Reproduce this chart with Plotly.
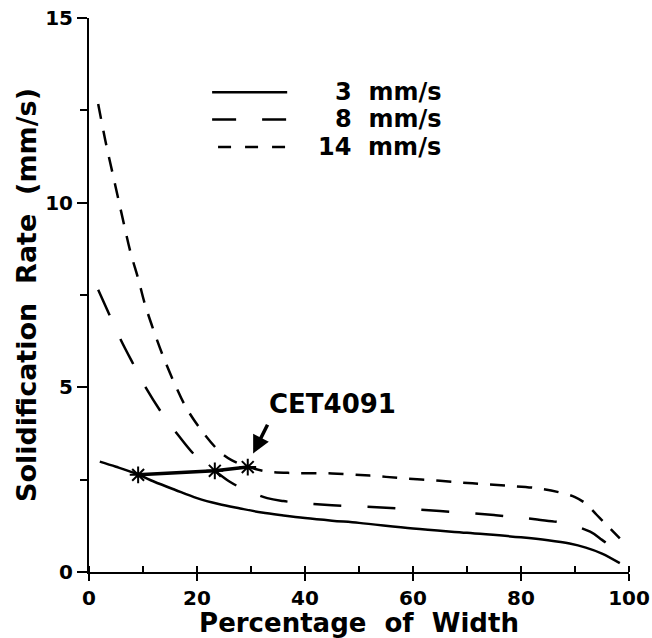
import plotly.graph_objects as go

# ---- data ----
x3 = [2, 5, 9.1, 12, 16, 20, 24, 28, 32, 36, 40, 45, 50, 60, 70, 80, 85, 89, 92, 95, 98.3]
y3 = [2.99, 2.85, 2.64, 2.45, 2.22, 2.0, 1.84, 1.72, 1.61, 1.53, 1.46, 1.39, 1.33, 1.18, 1.06, 0.94, 0.86, 0.77, 0.66, 0.5, 0.24]

x8 = [1.7, 3.8, 5.9, 8.3, 10.6, 13.5, 16.5, 19.9, 23.3, 26, 28.3, 33, 36, 40, 45, 55, 65, 75, 83, 88, 92.8, 95, 97.1]
y8 = [7.64, 6.96, 6.28, 5.6, 4.97, 4.3, 3.71, 3.12, 2.74, 2.45, 2.27, 2.0, 1.92, 1.86, 1.81, 1.74, 1.65, 1.54, 1.42, 1.32, 1.09, 0.87, 0.64]

x14 = [1.7, 3.2, 4.3, 5.4, 6.5, 7.7, 9.1, 10.3, 11.9, 13.7, 15.7, 18, 21, 24.2, 26.4, 29.4, 33, 38, 45, 52, 58, 65, 71, 77, 83, 87, 90, 92, 94, 96, 98.3]
y14 = [12.67, 11.56, 10.84, 10.12, 9.40, 8.65, 7.95, 7.28, 6.57, 5.85, 5.15, 4.45, 3.8, 3.26, 3.03, 2.85, 2.72, 2.68, 2.67, 2.61, 2.54, 2.47, 2.40, 2.34, 2.27, 2.16, 2.03, 1.85, 1.55, 1.25, 0.91]

cet_x = [9.1, 23.3, 29.4]
cet_y = [2.63, 2.74, 2.84]

series_names = ["3  mm/s", "8  mm/s", "14  mm/s"]
x_ticks = [0, 20, 40, 60, 80, 100]
y_ticks = [0, 5, 10, 15]

FONT = "DejaVu Sans"
BLACK = "black"

fig = go.Figure()
fig.add_trace(go.Scatter(x=x3, y=y3, mode="lines", line=dict(color=BLACK, width=2.5, shape="spline"),
                         name=series_names[0], showlegend=False))
fig.add_trace(go.Scatter(x=x8, y=y8, mode="lines", line=dict(color=BLACK, width=2.5, shape="spline", dash="28px,26px"),
                         name=series_names[1], showlegend=False))
fig.add_trace(go.Scatter(x=x14, y=y14, mode="lines", line=dict(color=BLACK, width=2.5, shape="spline", dash="15px,12px"),
                         name=series_names[2], showlegend=False))
fig.add_trace(go.Scatter(x=cet_x, y=cet_y, mode="lines+markers", line=dict(color=BLACK, width=3.5),
                         marker=dict(symbol="asterisk-open", size=14, line=dict(color=BLACK, width=2)),
                         name="CET4091", showlegend=False))

# legend (drawn manually to match the reference layout)
leg_y = [0.866, 0.817, 0.767]
leg_x0 = [0.228, 0.228, 0.239]
leg_dash = ["solid", "24px,26px", "13px,14px"]
for i in range(3):
    fig.add_shape(type="line", xref="paper", yref="paper", x0=leg_x0[i], x1=0.367, y0=leg_y[i], y1=leg_y[i],
                  line=dict(color=BLACK, width=2.5, dash=leg_dash[i]))
    fig.add_annotation(xref="paper", yref="paper", x=0.656, y=leg_y[i], xanchor="right", yanchor="middle",
                       text=series_names[i].replace(" ", "\u00a0"), showarrow=False,
                       font=dict(family=FONT, size=24, color=BLACK, weight="bold"))

# CET4091 label and arrow
fig.add_annotation(x=33.0, y=4.56, xref="x", yref="y", text="CET4091", showarrow=False,
                   xanchor="left", yanchor="middle", font=dict(family=FONT, size=26, color=BLACK, weight="bold"))
fig.add_annotation(x=30.4, y=3.21, ax=33.2, ay=4.03, xref="x", yref="y", axref="x", ayref="y",
                   text="", showarrow=True, arrowhead=2, arrowsize=1, arrowwidth=3.5, arrowcolor=BLACK, standoff=0)

tickfont = dict(family=FONT, size=20, color=BLACK, weight="bold")
titlefont = dict(family=FONT, size=26, color=BLACK, weight="bold")

fig.update_xaxes(range=[0, 100], tickvals=x_ticks, ticks="outside", ticklen=7, tickwidth=2, tickcolor=BLACK,
                 showline=True, linewidth=2, linecolor=BLACK, showgrid=False, zeroline=False,
                 tickfont=tickfont, automargin=False, ticklabeloverflow="allow",
                 minor=dict(dtick=10, ticks="inside", ticklen=6, tickwidth=1.5, tickcolor=BLACK, showgrid=False),
                 title=dict(text="Percentage\u00a0\u00a0of\u00a0\u00a0Width", font=titlefont, standoff=4))
fig.update_yaxes(range=[0, 15], tickvals=y_ticks, ticks="outside", ticklen=10, tickwidth=2, tickcolor=BLACK,
                 showline=True, linewidth=2, linecolor=BLACK, showgrid=False, zeroline=False,
                 tickfont=tickfont, automargin=False, ticklabelstandoff=0, ticklabeloverflow="allow",
                 minor=dict(dtick=2.5, ticks="outside", ticklen=7, tickwidth=1.5, tickcolor=BLACK, showgrid=False),
                 title=dict(text="Solidification\u00a0\u00a0Rate\u00a0\u00a0(mm/s)",
                            font=dict(family=FONT, size=27, color=BLACK, weight="bold"), standoff=1))

fig.update_layout(width=652, height=638, margin=dict(l=89, r=23, t=18, b=66),
                  plot_bgcolor="white", paper_bgcolor="white", showlegend=False)

# remove the browser's default 8px body margin so the figure fills the 652x638 window exactly
fig.write_html("out.html", config={"displayModeBar": False},
               post_script="document.body.style.margin='0';")
